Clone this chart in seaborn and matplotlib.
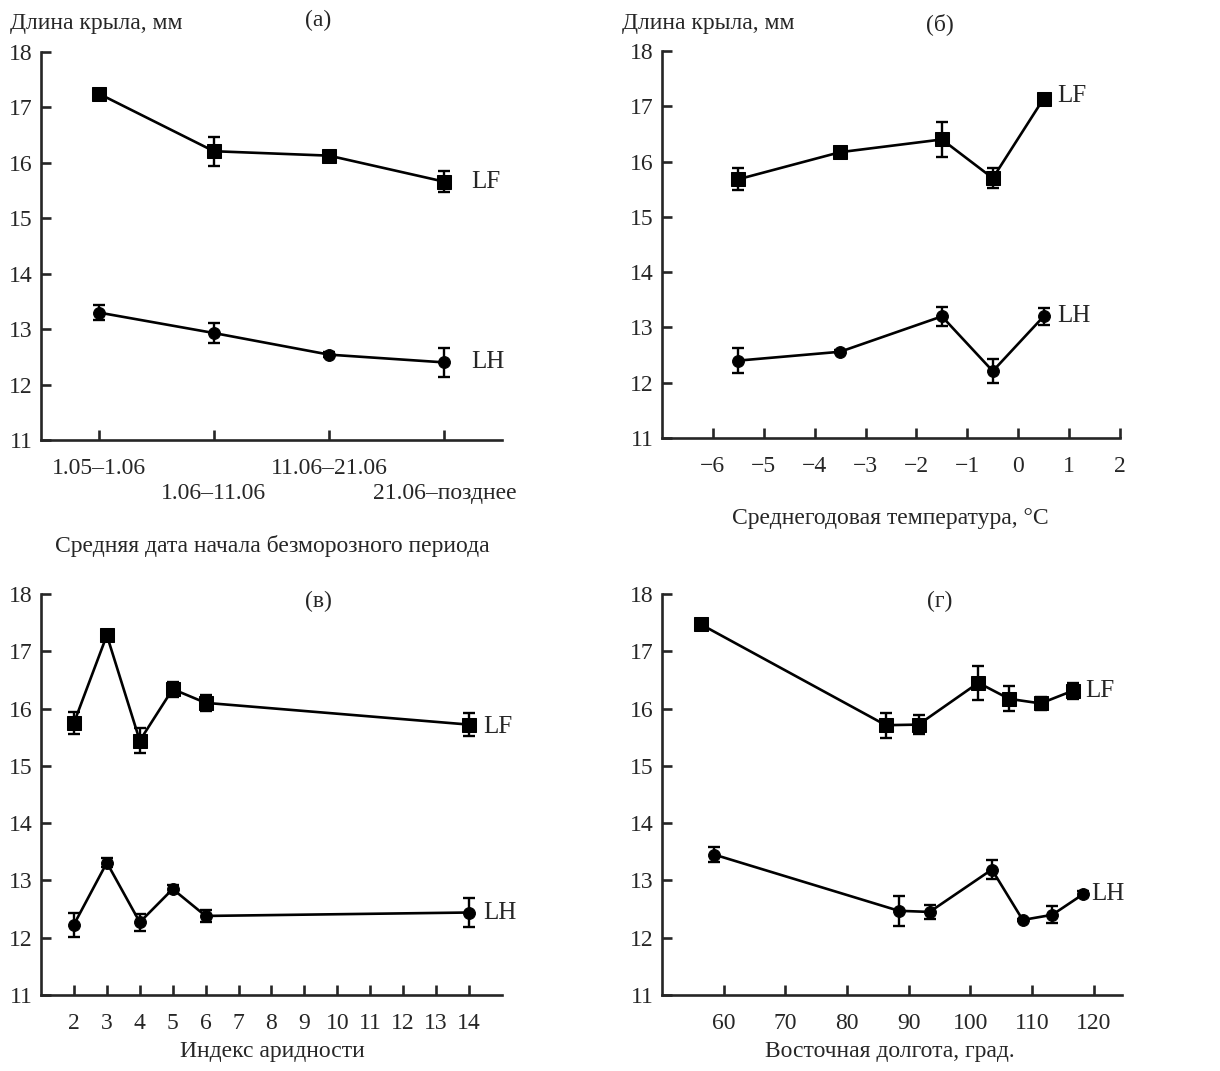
import matplotlib
matplotlib.use("Agg")
import matplotlib.pyplot as plt
import seaborn as sns
import pandas as pd

# (а) frost-free period start date
a_cats = ['1.05–1.06', '1.06–11.06', '11.06–21.06', '21.06–позднее']
a_lf = [17.25, 16.21, 16.13, 15.66]
a_lf_err = [0.05, 0.26, 0.07, 0.19]
a_lh = [13.30, 12.93, 12.54, 12.40]
a_lh_err = [0.13, 0.18, 0.05, 0.26]

# (б) mean annual temperature
b_x = [-5.5, -3.5, -1.5, -0.5, 0.5]
b_lf = [15.68, 16.17, 16.40, 15.70, 17.14]
b_lf_err = [0.20, 0.05, 0.31, 0.18, 0.05]
b_lh = [12.40, 12.56, 13.20, 12.21, 13.20]
b_lh_err = [0.23, 0.03, 0.17, 0.21, 0.15]

# (в) aridity index
c_x = [2, 3, 4, 5, 6, 14]
c_lf = [15.75, 17.28, 15.44, 16.34, 16.10, 15.72]
c_lf_err = [0.19, 0.03, 0.22, 0.13, 0.14, 0.20]
c_lh = [12.23, 13.31, 12.27, 12.85, 12.38, 12.44]
c_lh_err = [0.21, 0.08, 0.15, 0.07, 0.10, 0.26]

# (г) eastern longitude
d_lf_x = [56.3, 86.3, 91.6, 101.3, 106.3, 111.4, 116.6]
d_lf = [17.47, 15.71, 15.72, 16.45, 16.17, 16.09, 16.31]
d_lf_err = [0.05, 0.22, 0.16, 0.30, 0.22, 0.12, 0.14]
d_lh_x = [58.5, 88.4, 93.4, 103.5, 108.5, 113.3, 118.3]
d_lh = [13.45, 12.47, 12.45, 13.19, 12.31, 12.40, 12.76]
d_lh_err = [0.13, 0.26, 0.12, 0.17, 0.02, 0.15, 0.05]

sns.set_style("ticks")
plt.rcParams['font.family'] = ['Liberation Serif', 'DejaVu Serif']
FS = 17

fig = plt.figure(figsize=(12.2, 10.71), dpi=100)
W, H = 1220, 1071


def make_ax(l, r, t, b):
    return fig.add_axes([l / W, 1 - b / H, (r - l) / W, (b - t) / H])


ax_a = make_ax(41, 502, 52, 440)
ax_b = make_ax(662, 1120, 51, 438)
ax_c = make_ax(41, 502, 594, 995)
ax_d = make_ax(662, 1122, 594, 995)


def draw(ax, x, y, err, marker, ms):
    df = pd.DataFrame({'x': x, 'y': y})
    ax.errorbar(x, y, yerr=err, fmt='none', ecolor='black', elinewidth=1.7,
                capsize=4.5, capthick=1.7, zorder=2)
    sns.lineplot(data=df, x='x', y='y', ax=ax, color='black', linewidth=1.9,
                 marker=marker, markersize=ms, markeredgecolor='black',
                 markerfacecolor='black', zorder=3, sort=False)


def label(ax, x, y, txt, dx):
    ax.annotate(txt, (x, y), xytext=(dx, 0), textcoords='offset points',
                ha='left', va='center', fontsize=FS + 1)


def style(ax, xlim, xticks):
    ax.set_xlim(*xlim)
    ax.set_ylim(11, 18)
    ax.set_yticks(range(11, 19))
    ax.set_xticks(xticks)
    sns.despine(ax=ax)
    ax.spines['left'].set_linewidth(1.9)
    ax.spines['bottom'].set_linewidth(1.9)
    ax.tick_params(which='both', direction='in', length=7, width=1.9, labelsize=FS)
    ax.tick_params(axis='x', which='both', pad=13)
    ax.tick_params(axis='y', pad=6)
    ax.set_xlabel('')
    ax.set_ylabel('')


# (а) - labels staggered on two rows
a_pos = [1, 2, 3, 4]
draw(ax_a, a_pos, a_lf, a_lf_err, 's', 10)
draw(ax_a, a_pos, a_lh, a_lh_err, 'o', 8.5)
style(ax_a, (0.5, 4.5), a_pos[0::2])
ax_a.set_xticklabels(a_cats[0::2])
ax_a.set_xticks(a_pos[1::2], minor=True)
ax_a.set_xticklabels(a_cats[1::2], minor=True)
ax_a.tick_params(axis='x', which='minor', pad=31)
label(ax_a, a_pos[-1], a_lf[-1], 'LF', 19)
label(ax_a, a_pos[-1], a_lh[-1], 'LH', 19)

# (б)
draw(ax_b, b_x, b_lf, b_lf_err, 's', 10)
draw(ax_b, b_x, b_lh, b_lh_err, 'o', 8.5)
style(ax_b, (-7, 2), range(-6, 3))
ax_b.set_xticklabels([str(v).replace('-', '−') for v in range(-6, 3)])
label(ax_b, b_x[-1], b_lf[-1] + 0.05, 'LF', 10)
label(ax_b, b_x[-1], b_lh[-1], 'LH', 10)

# (в)
draw(ax_c, c_x, c_lf, c_lf_err, 's', 10)
draw(ax_c, c_x, c_lh, c_lh_err, 'o', 8.5)
style(ax_c, (1, 15), range(2, 15))
label(ax_c, c_x[-1], c_lf[-1] - 0.05, 'LF', 10)
label(ax_c, c_x[-1], c_lh[-1], 'LH', 10)

# (г)
draw(ax_d, d_lf_x, d_lf, d_lf_err, 's', 10)
draw(ax_d, d_lh_x, d_lh, d_lh_err, 'o', 8.5)
style(ax_d, (50, 124.6), range(60, 121, 10))
label(ax_d, d_lf_x[-1], d_lf[-1], 'LF', 9)
label(ax_d, d_lh_x[-1], d_lh[-1], 'LH', 6)

# annotations
fig.text(10 / W, 1 - 24 / H, 'Длина крыла, мм', fontsize=FS, va='center')
fig.text(622 / W, 1 - 24 / H, 'Длина крыла, мм', fontsize=FS, va='center')
fig.text(318 / W, 1 - 20 / H, '(а)', fontsize=FS, ha='center', va='center')
fig.text(940 / W, 1 - 24 / H, '(б)', fontsize=FS, ha='center', va='center')
fig.text(318 / W, 1 - 601 / H, '(в)', fontsize=FS, ha='center', va='center')
fig.text(940 / W, 1 - 601 / H, '(г)', fontsize=FS, ha='center', va='center')

fig.text(272 / W, 1 - 546 / H, 'Средняя дата начала безморозного периода',
         fontsize=FS, ha='center', va='center')
fig.text(890 / W, 1 - 518 / H, 'Среднегодовая температура, °C',
         fontsize=FS, ha='center', va='center')
fig.text(272 / W, 1 - 1051 / H, 'Индекс аридности',
         fontsize=FS, ha='center', va='center')
fig.text(890 / W, 1 - 1051 / H, 'Восточная долгота, град.',
         fontsize=FS, ha='center', va='center')

fig.savefig('out.png', dpi=100)
